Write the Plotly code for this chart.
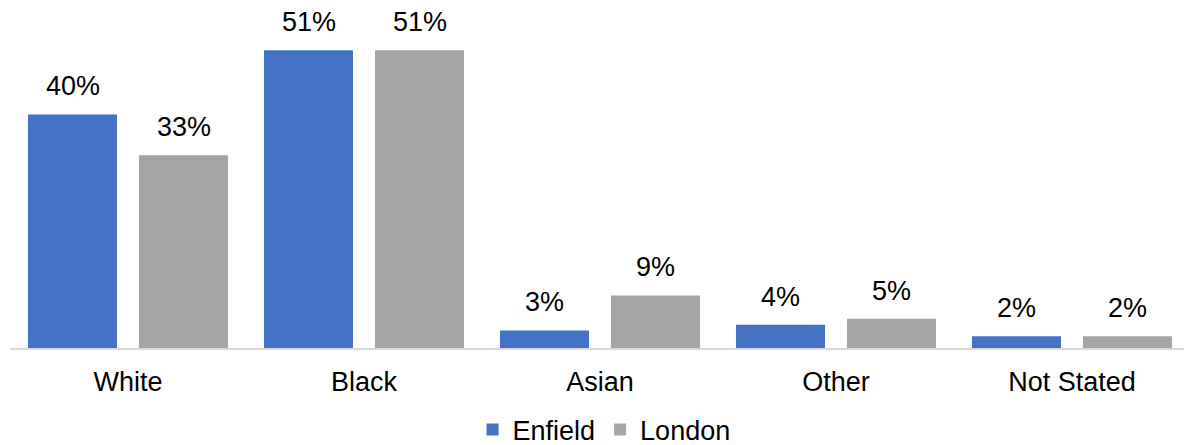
import plotly.graph_objects as go

categories = ["White", "Black", "Asian", "Other", "Not Stated"]
enfield = [40, 51, 3, 4, 2]
london = [33, 51, 9, 5, 2]
series_names = ["Enfield", "London"]
colors = ["#4472C4", "#A5A5A5"]

FONT = "Liberation Sans, Arial, sans-serif"
FS = 27

fig = go.Figure()
for name, vals, col in zip(series_names, [enfield, london], colors):
    fig.add_trace(go.Bar(x=categories, y=vals, name=name, marker_color=col,
                         marker_line_width=0))

annotations = []
for vals, shift in zip([enfield, london], [-55.5, 55.5]):
    for c, v in zip(categories, vals):
        annotations.append(dict(x=c, y=v, xref="x", yref="y", text=f"{v}%",
                                showarrow=False, xshift=shift, yanchor="bottom",
                                yshift=11, font=dict(family=FONT, size=FS, color="#000")))

fig.update_layout(
    width=1184, height=445,
    margin=dict(l=10, r=0, t=0, b=97, autoexpand=False),
    plot_bgcolor="white", paper_bgcolor="white",
    barmode="group", bargap=0.059, bargroupgap=0.198,
    font=dict(family=FONT, size=FS, color="#000"),
    showlegend=True,
    legend=dict(orientation="h", x=0.506, xanchor="center", y=-0.165, yanchor="top",
                font=dict(family=FONT, size=FS), itemwidth=30, tracegroupgap=0),
    annotations=annotations,
)
fig.update_xaxes(range=[-0.5, -0.5 + 1174 / 236], showline=True, linecolor="#D9D9D9",
                 linewidth=2, ticks="", showgrid=False, ticklabelstandoff=9,
                 tickfont=dict(family=FONT, size=FS, color="#000"), automargin=False)
fig.update_yaxes(range=[0, 59.6], visible=False, showgrid=False, automargin=False)

fig.write_html("out.html", config={"displayModeBar": False},
               post_script="document.body.style.margin='0px';document.body.style.overflow='hidden';")
